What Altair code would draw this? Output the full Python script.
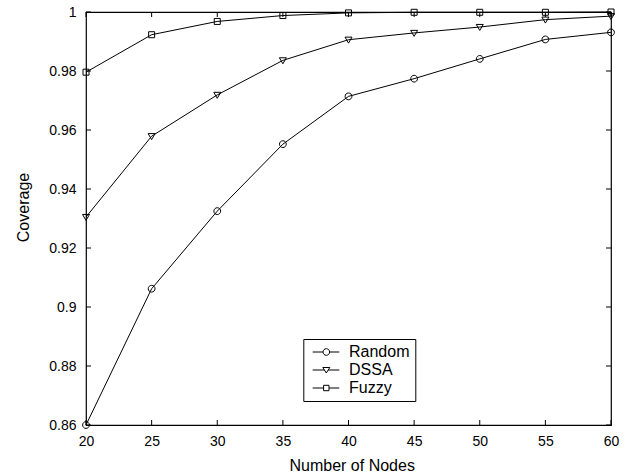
import altair as alt
import pandas as pd

nodes = [20, 25, 30, 35, 40, 45, 50, 55, 60]
random_cov = [0.8600, 0.9062, 0.9325, 0.9552, 0.9714, 0.9774, 0.9841, 0.9907, 0.9931]
dssa_cov = [0.9305, 0.9579, 0.9719, 0.9836, 0.9906, 0.9929, 0.9949, 0.9974, 0.9986]
fuzzy_cov = [0.9796, 0.9923, 0.9968, 0.9988, 0.9997, 0.9999, 0.9999, 0.9999, 1.0000]
series_names = ["Random", "DSSA", "Fuzzy"]
x_ticks = [20, 25, 30, 35, 40, 45, 50, 55, 60]
y_ticks = [0.86, 0.88, 0.90, 0.92, 0.94, 0.96, 0.98, 1.00]

rows = []
for name, vals in zip(series_names, [random_cov, dssa_cov, fuzzy_cov]):
    for n, v in zip(nodes, vals):
        rows.append({"nodes": n, "coverage": v, "series": name})
df = pd.DataFrame(rows)
xt = pd.DataFrame({"nodes": x_ticks})
yt = pd.DataFrame({"coverage": y_ticks})

W, H = 525, 413
FONT = "Liberation Sans"
TL = 5

xscale = alt.Scale(domain=[20, 60], nice=False, zero=False)
yscale = alt.Scale(domain=[0.86, 1.0], nice=False, zero=False)

plot_paths = [
    "M-3.4,0A3.4,3.4 0 1,0 3.4,0A3.4,3.4 0 1,0 -3.4,0Z",
    "M-3.5,-2.6H3.5L0,3.4Z",
    "M-3,-3H3V3H-3Z",
]
legend_paths = [
    "M6.7,0A3.3,3.3 0 1,0 13.3,0A3.3,3.3 0 1,0 6.7,0Z M-3.6,0H6.7 M13.3,0H23",
    "M6.5,-2.5H13.5L10,3Z M-3.6,0H8.1 M11.9,0H23",
    "M7.3,-2.7H12.7V2.7H7.3Z M-3.6,0H7.3 M12.7,0H23",
]

base = alt.Chart(df)

lines = base.mark_line(color="black", strokeWidth=1).encode(
    x=alt.X("nodes:Q", scale=xscale, axis=alt.Axis(
        title="Number of Nodes", values=x_ticks, ticks=False, domain=False, grid=False,
        labelFlush=False,
        labelFont=FONT, labelFontSize=14, labelColor="black", labelPadding=9,
        titleFont=FONT, titleFontSize=16, titleFontWeight="normal", titleColor="black",
        titleX=265.7, titleY=45, titleBaseline="alphabetic", titleAlign="center")),
    y=alt.Y("coverage:Q", scale=yscale, axis=alt.Axis(
        title="Coverage", values=y_ticks, format=".2~f", ticks=False, domain=False, grid=False,
        labelFlush=False,
        labelFont=FONT, labelFontSize=14, labelColor="black", labelPadding=10,
        titleFont=FONT, titleFontSize=16, titleFontWeight="normal", titleColor="black",
        titleX=-58, titleY=195, titleAngle=-90, titleBaseline="alphabetic", titleAlign="center")),
    detail="series:N",
)

points = base.mark_point(filled=False, color="black", strokeWidth=1, size=4, opacity=1).encode(
    x=alt.X("nodes:Q", scale=xscale),
    y=alt.Y("coverage:Q", scale=yscale),
    shape=alt.Shape("series:N", scale=alt.Scale(domain=series_names, range=plot_paths), legend=None),
)

legend_layer = base.transform_filter("false").mark_point(
    filled=False, color="black", strokeWidth=1, size=4, opacity=1
).encode(
    shape=alt.Shape("series:N", scale=alt.Scale(domain=series_names, range=legend_paths),
                    legend=alt.Legend(
                        title=None, orient="none", legendX=217.3, legendY=327,
                        strokeColor="black", fillColor="white", padding=5,
                        symbolSize=4, symbolStrokeWidth=1, symbolStrokeColor="black",
                        labelFont=FONT, labelFontSize=16, labelColor="black",
                        labelOffset=24.7, rowPadding=2,
                        labelExpr="datum.label + '\u00a0\u00a0\u00a0\u00a0\u00a0'")),
)

tick_b = alt.Chart(xt).mark_rule(color="black", strokeWidth=1).encode(
    x=alt.X("nodes:Q", scale=xscale), y=alt.value(H), y2=alt.value(H - TL))
tick_t = alt.Chart(xt).mark_rule(color="black", strokeWidth=1).encode(
    x=alt.X("nodes:Q", scale=xscale), y=alt.value(0), y2=alt.value(TL))
tick_l = alt.Chart(yt).mark_rule(color="black", strokeWidth=1).encode(
    y=alt.Y("coverage:Q", scale=yscale), x=alt.value(0), x2=alt.value(TL))
tick_r = alt.Chart(yt).mark_rule(color="black", strokeWidth=1).encode(
    y=alt.Y("coverage:Q", scale=yscale), x=alt.value(W), x2=alt.value(W - TL))

chart = alt.layer(lines, points, tick_b, tick_t, tick_l, tick_r, legend_layer).resolve_scale(
    shape="independent"
).properties(
    width=W, height=H,
    autosize=alt.AutoSizeParams(type="none"),
    padding={"left": 86, "top": 12, "right": 15, "bottom": 49},
    background="white",
).configure_view(stroke="black", strokeWidth=1.2)

chart.save("out.html", embed_options={"renderer": "svg", "actions": False})
